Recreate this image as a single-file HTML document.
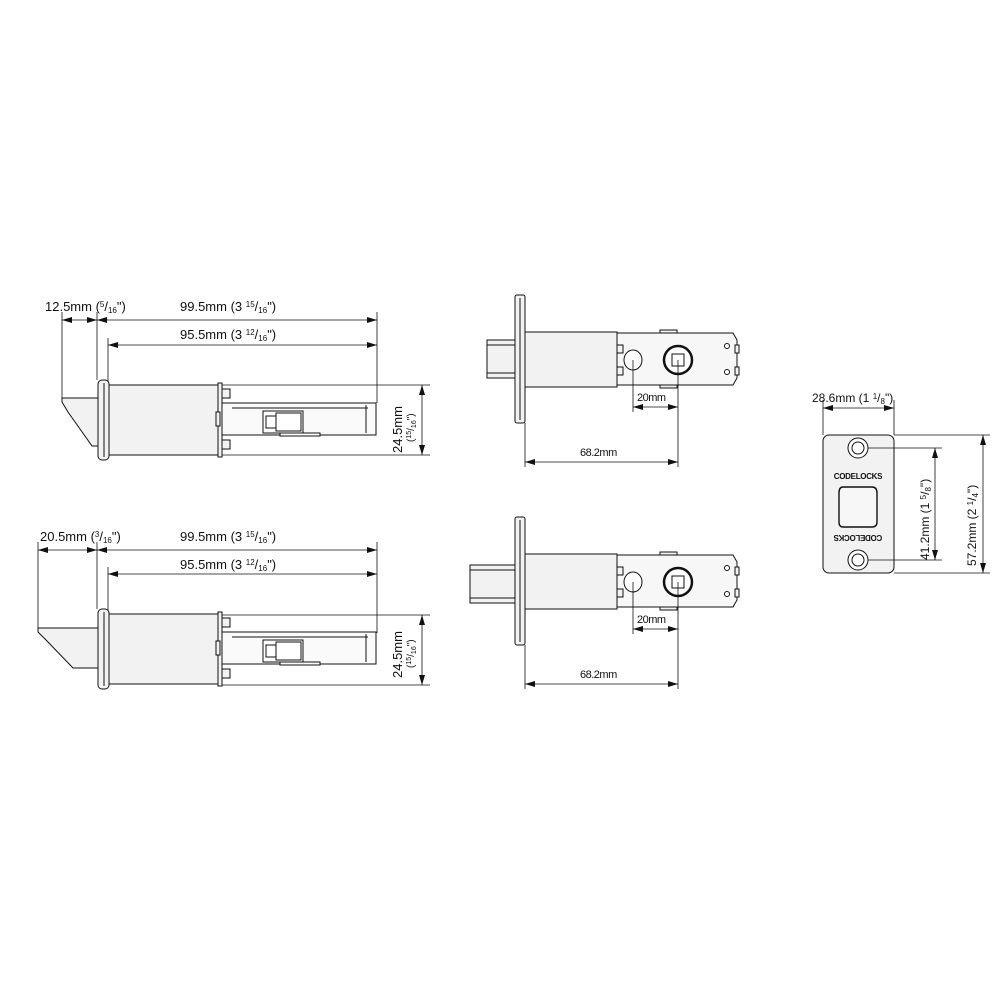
<!DOCTYPE html>
<html><head><meta charset="utf-8"><style>
html,body{margin:0;padding:0;background:#fff}
svg{display:block}
text{font-family:"Liberation Sans",sans-serif;fill:#111}
</style></head><body>
<svg width="1000" height="1000" viewBox="0 0 1000 1000" xmlns="http://www.w3.org/2000/svg">
<defs>
<marker id="a" viewBox="0 0 10 6" refX="10" refY="3" markerWidth="10" markerHeight="6" orient="auto-start-reverse" markerUnits="userSpaceOnUse"><path d="M0,0 L10,3 L0,6 Z" fill="#111"/></marker>
<g id="latch" stroke="#111" stroke-width="1" fill="#f2f2f2">
  <rect x="98" y="380" width="11" height="80" rx="4"/>
  <line x1="104" y1="383" x2="104" y2="457"/>
  <rect x="109" y="385" width="113" height="70"/>
  <rect x="222" y="403" width="154" height="32" fill="#fafafa"/>
  <rect x="218" y="383" width="4" height="74"/>
  <rect x="222" y="389" width="8" height="9"/>
  <rect x="222" y="440" width="8" height="9"/>
  <rect x="216" y="412" width="4" height="14"/>
  <rect x="263" y="411" width="40" height="22" fill="#fff"/>
  <rect x="276" y="413" width="25" height="18" fill="#fff"/>
  <rect x="266" y="416" width="10" height="12" fill="#fff"/>
  <rect x="280" y="433" width="40" height="3" fill="#fff"/>
  <line x1="232" y1="408" x2="368" y2="408"/>
  <line x1="366" y1="405" x2="366" y2="433"/>
</g>
<g id="side" stroke="#111" stroke-width="1" fill="#f2f2f2">
  <rect x="515" y="295" width="10" height="128" rx="2"/>
  <line x1="520" y1="298" x2="520" y2="420"/>
  <rect x="525" y="332" width="92" height="55"/>
  <path d="M617,333 H733 L737,340 V378 L733,385 H617 Z" fill="#f7f7f7"/>
  <rect x="660" y="330" width="17" height="3"/>
  <rect x="660" y="385" width="17" height="3"/>
  <rect x="735" y="345" width="4" height="8"/><rect x="735" y="367" width="4" height="8"/>
  <rect x="617" y="345" width="6" height="8"/><rect x="617" y="367" width="6" height="8"/>
  <ellipse cx="633" cy="360" rx="9" ry="10" fill="#fff"/>
  <circle cx="678" cy="360" r="14" fill="#fff" stroke-width="2.5"/>
  <rect x="672" y="354" width="12" height="12" fill="#fff"/>
  <circle cx="727" cy="346" r="2.5" fill="#fff"/><circle cx="727" cy="372" r="2.5" fill="#fff"/>
</g>
</defs>

<!-- top-left latch -->
<g stroke="#111" stroke-width="0.8" fill="none">
  <line x1="62" y1="312" x2="62" y2="398"/>
  <line x1="97" y1="312" x2="97" y2="380"/>
  <line x1="108" y1="338" x2="108" y2="385"/>
  <line x1="377" y1="312" x2="377" y2="403"/>
  <line x1="62" y1="320" x2="97" y2="320" marker-start="url(#a)" marker-end="url(#a)"/>
  <line x1="97" y1="320" x2="377" y2="320" marker-start="url(#a)" marker-end="url(#a)"/>
  <line x1="108" y1="345" x2="377" y2="345" marker-start="url(#a)" marker-end="url(#a)"/>
  <line x1="222" y1="385" x2="430" y2="385"/>
  <line x1="222" y1="455" x2="430" y2="455"/>
  <line x1="422" y1="385" x2="422" y2="455" marker-start="url(#a)" marker-end="url(#a)"/>
</g>
<path d="M62,398 H98 V446 H92 L68,412 L62,402 Z" fill="#f2f2f2" stroke="#111"/>
<use href="#latch"/>
<text x="45" y="311" font-size="13">12.5mm (<tspan font-size="8" dy="-4">5</tspan><tspan dy="4">/</tspan><tspan font-size="8" dy="2">16</tspan><tspan dy="-2">")</tspan></text>
<text x="180" y="311" font-size="13">99.5mm  (3 <tspan font-size="8" dy="-4">15</tspan><tspan dy="4">/</tspan><tspan font-size="8" dy="2">16</tspan><tspan dy="-2">")</tspan></text>
<text x="180" y="339" font-size="13">95.5mm  (3 <tspan font-size="8" dy="-4">12</tspan><tspan dy="4">/</tspan><tspan font-size="8" dy="2">16</tspan><tspan dy="-2">")</tspan></text>
<text transform="translate(402,453) rotate(-90)" font-size="13">24.5mm</text>
<text transform="translate(414,442) rotate(-90)" font-size="10">(<tspan font-size="7" dy="-3">15</tspan><tspan dy="3">/</tspan><tspan font-size="7" dy="2">16</tspan><tspan dy="-2">")</tspan></text>

<!-- bottom-left latch -->
<g stroke="#111" stroke-width="0.8" fill="none">
  <line x1="38" y1="542" x2="38" y2="628"/>
  <line x1="97" y1="542" x2="97" y2="609"/>
  <line x1="108" y1="567" x2="108" y2="615"/>
  <line x1="377" y1="542" x2="377" y2="633"/>
  <line x1="38" y1="550" x2="97" y2="550" marker-start="url(#a)" marker-end="url(#a)"/>
  <line x1="97" y1="550" x2="377" y2="550" marker-start="url(#a)" marker-end="url(#a)"/>
  <line x1="108" y1="574" x2="377" y2="574" marker-start="url(#a)" marker-end="url(#a)"/>
  <line x1="222" y1="615" x2="430" y2="615"/>
  <line x1="222" y1="685" x2="430" y2="685"/>
  <line x1="422" y1="615" x2="422" y2="685" marker-start="url(#a)" marker-end="url(#a)"/>
</g>
<path d="M38,628 H98 V668 H73 L46,640 L38,632 Z" fill="#f2f2f2" stroke="#111"/>
<use href="#latch" transform="translate(0,229)"/>
<text x="40" y="541" font-size="13">20.5mm  (<tspan font-size="8" dy="-4">3</tspan><tspan dy="4">/</tspan><tspan font-size="8" dy="2">16</tspan><tspan dy="-2">")</tspan></text>
<text x="180" y="541" font-size="13">99.5mm  (3 <tspan font-size="8" dy="-4">15</tspan><tspan dy="4">/</tspan><tspan font-size="8" dy="2">16</tspan><tspan dy="-2">")</tspan></text>
<text x="180" y="569" font-size="13">95.5mm  (3 <tspan font-size="8" dy="-4">12</tspan><tspan dy="4">/</tspan><tspan font-size="8" dy="2">16</tspan><tspan dy="-2">")</tspan></text>
<text transform="translate(402,678) rotate(-90)" font-size="13">24.5mm</text>
<text transform="translate(414,668) rotate(-90)" font-size="10">(<tspan font-size="7" dy="-3">15</tspan><tspan dy="3">/</tspan><tspan font-size="7" dy="2">16</tspan><tspan dy="-2">")</tspan></text>

<!-- middle top -->
<rect x="487" y="340" width="28" height="38" fill="#f2f2f2" stroke="#111"/>
<line x1="487" y1="345" x2="515" y2="345" stroke="#111"/><line x1="487" y1="373" x2="515" y2="373" stroke="#111"/>
<use href="#side"/>
<g stroke="#111" stroke-width="0.8" fill="none">
  <line x1="633" y1="360" x2="633" y2="412"/>
  <line x1="678" y1="360" x2="678" y2="467"/>
  <line x1="525" y1="423" x2="525" y2="467"/>
  <line x1="633" y1="407" x2="678" y2="407" marker-start="url(#a)" marker-end="url(#a)"/>
  <line x1="525" y1="462" x2="678" y2="462" marker-start="url(#a)" marker-end="url(#a)"/>
</g>
<text x="637" y="401" font-size="11" letter-spacing="-0.5">20mm</text>
<text x="580" y="456" font-size="11" letter-spacing="-0.5">68.2mm</text>

<!-- middle bottom -->
<rect x="470" y="565" width="45" height="38" fill="#f2f2f2" stroke="#111"/>
<line x1="470" y1="570" x2="515" y2="570" stroke="#111"/><line x1="470" y1="598" x2="515" y2="598" stroke="#111"/>
<use href="#side" transform="translate(0,222)"/>
<g stroke="#111" stroke-width="0.8" fill="none">
  <line x1="633" y1="582" x2="633" y2="634"/>
  <line x1="678" y1="582" x2="678" y2="689"/>
  <line x1="525" y1="645" x2="525" y2="689"/>
  <line x1="633" y1="629" x2="678" y2="629" marker-start="url(#a)" marker-end="url(#a)"/>
  <line x1="525" y1="684" x2="678" y2="684" marker-start="url(#a)" marker-end="url(#a)"/>
</g>
<text x="637" y="623" font-size="11" letter-spacing="-0.5">20mm</text>
<text x="580" y="678" font-size="11" letter-spacing="-0.5">68.2mm</text>

<!-- strike plate -->
<g stroke="#111" fill="none">
  <rect x="823" y="435" width="71" height="138" rx="6" fill="#f2f2f2"/>
  <circle cx="858" cy="448" r="10" fill="#fff"/><circle cx="858" cy="448" r="6"/>
  <circle cx="858" cy="560" r="10" fill="#fff"/><circle cx="858" cy="560" r="6"/>
  <path d="M843,487 H872 Q877,487 877,493 V522 Q877,527 872,527 H843 Q839,527 839,522 V493 Q839,487 843,487 Z" fill="#f7f7f7" stroke-width="1.4"/>
  <g stroke-width="0.8">
  <line x1="823" y1="400" x2="823" y2="435"/><line x1="894" y1="400" x2="894" y2="435"/>
  <line x1="823" y1="408" x2="894" y2="408" marker-start="url(#a)" marker-end="url(#a)"/>
  <line x1="868" y1="448" x2="942" y2="448"/><line x1="868" y1="560" x2="942" y2="560"/>
  <line x1="935" y1="448" x2="935" y2="560" marker-start="url(#a)" marker-end="url(#a)"/>
  <line x1="894" y1="435" x2="990" y2="435"/><line x1="894" y1="573" x2="990" y2="573"/>
  <line x1="983" y1="435" x2="983" y2="573" marker-start="url(#a)" marker-end="url(#a)"/>
  </g>
</g>
<text x="858" y="479" font-size="8" font-weight="bold" text-anchor="middle" letter-spacing="-0.3">CODELOCKS</text>
<text transform="translate(858,535) rotate(180)" font-size="8" font-weight="bold" text-anchor="middle" letter-spacing="-0.3">CODELOCKS</text>
<text x="812" y="402" font-size="12">28.6mm  (1 <tspan font-size="8" dy="-3">1</tspan><tspan dy="3">/</tspan><tspan font-size="8" dy="2">8</tspan><tspan dy="-2">")</tspan></text>
<text transform="translate(929,560) rotate(-90)" font-size="12">41.2mm  (1 <tspan font-size="8" dy="-3">5</tspan><tspan dy="3">/</tspan><tspan font-size="8" dy="2">8</tspan><tspan dy="-2">")</tspan></text>
<text transform="translate(976,566) rotate(-90)" font-size="12">57.2mm  (2 <tspan font-size="8" dy="-3">1</tspan><tspan dy="3">/</tspan><tspan font-size="8" dy="2">4</tspan><tspan dy="-2">")</tspan></text>
</svg>
</body></html>
